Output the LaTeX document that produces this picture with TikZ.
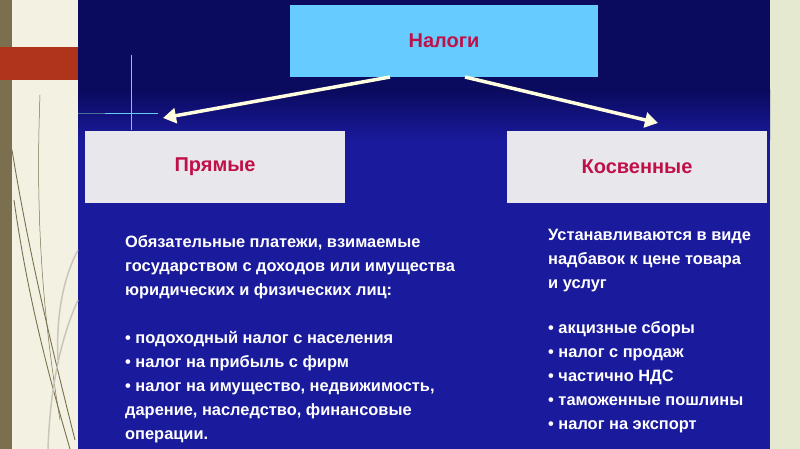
\documentclass[tikz,border=0pt]{standalone}
\usepackage{fontspec}
\setmainfont{Liberation Sans}
\usetikzlibrary{arrows.meta}
\definecolor{navy}{HTML}{0A0A5E}
\definecolor{blu}{HTML}{1A1A9C}
\definecolor{cream}{HTML}{F2F1E2}
\definecolor{olive}{HTML}{7A7050}
\definecolor{rust}{HTML}{B0341C}
\definecolor{rside}{HTML}{E4E9D0}
\definecolor{cyanbox}{HTML}{66CCFF}
\definecolor{boxgray}{HTML}{E8E8EC}
\definecolor{crim}{HTML}{C0104A}
\definecolor{arr}{HTML}{FFFFE0}
\tikzset{
  head/.style={fill=cyanbox, minimum width=308pt, minimum height=72pt, inner sep=0pt, font=\bfseries\fontsize{20}{22}\selectfont, text=crim},
  cat/.style={fill=boxgray, minimum width=260pt, minimum height=72pt, inner sep=0pt, font=\bfseries\fontsize{20}{22}\selectfont, text=crim},
  body/.style={anchor=north west, align=left, inner sep=0pt, text=white, font=\bfseries\fontsize{16.4}{24}\selectfont},
  link/.style={draw=arr, line width=3.5pt, -{Triangle[length=13pt,width=15pt]}},
  plant/.style={draw=olive, line width=0.9pt}
}
\begin{document}
\begin{tikzpicture}[x=1pt,y=-1pt]
\useasboundingbox (0,0) rectangle (800,449);
\fill[cream] (0,0) rectangle (78,449);
\fill[olive] (0,0) rectangle (12,449);
\fill[rside] (770,0) rectangle (800,449);
\fill[navy] (78,0) rectangle (770,449);
\shade[top color=navy, bottom color=blu] (78,90) rectangle (770,140);
\fill[blu] (78,140) rectangle (770,449);
\fill[rust] (0,47) rectangle (78,80);
% plant decoration
\draw[plant] (12,150) .. controls (30,260) and (55,360) .. (75,440);
\draw[plant] (14,200) .. controls (28,300) and (50,380) .. (70,449);
\draw[plant, line width=0.5pt] (40,95) .. controls (36,200) and (40,300) .. (60,420);
\draw[plant, draw=olive!40, line width=1.5pt] (78,300) .. controls (60,340) and (50,390) .. (48,449);
\draw[plant, draw=olive!40, line width=1.5pt] (78,250) .. controls (62,280) and (56,320) .. (58,360);
% crosshair
\draw[cyan!60!white, line width=0.5pt] (105,113) -- (158,113) (131,55) -- (131,130);
\draw[cyan!40!navy, line width=0.4pt] (78,113) -- (105,113);
\node[head] (n) at (444,41) {Налоги};
\node[cat] (p) at (215,167) {Прямые};
\node[cat] (k) at (637,167) {Косвенные};
\coordinate (la) at (390,77);
\coordinate (ra) at (465,77);
\coordinate (lt) at (163,118);
\coordinate (rt) at (658,123);
\draw[link] (la) -- (lt);
\draw[link] (ra) -- (rt);
\node[body] (pt) at (125,235) {Обязательные платежи, взимаемые\\государством с доходов или имущества\\юридических и физических лиц:\\[24pt]
• подоходный налог с населения\\• налог на прибыль с фирм\\• налог на имущество, недвижимость,\\дарение, наследство, финансовые\\операции.};
\node[body] (kt) at (548,229) {Устанавливаются в виде\\надбавок к цене товара\\и услуг\\[21pt]
• акцизные сборы\\• налог с продаж\\• частично НДС\\• таможенные пошлины\\• налог на экспорт};
\end{tikzpicture}
\end{document}
